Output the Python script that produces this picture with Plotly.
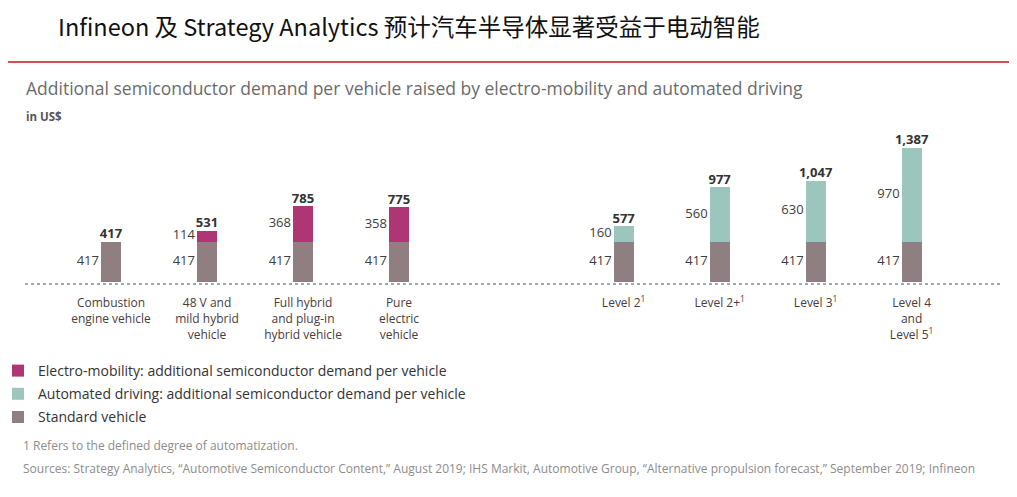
import plotly.graph_objects as go

# ---- data ----
categories = [
    "Combustion<br>engine vehicle",
    "48 V and<br>mild hybrid<br>vehicle",
    "Full hybrid<br>and plug-in<br>hybrid vehicle",
    "Pure<br>electric<br>vehicle",
    "Level 2<sup>1</sup>",
    "Level 2+<sup>1</sup>",
    "Level 3<sup>1</sup>",
    "Level 4<br>and<br>Level 5<sup>1</sup>",
]
standard = [417, 417, 417, 417, 417, 417, 417, 417]
electro = [0, 114, 368, 358, 0, 0, 0, 0]
automated = [0, 0, 0, 0, 160, 560, 630, 970]
totals = [417, 531, 785, 775, 577, 977, 1047, 1387]

title_text = "Infineon 及 Strategy Analytics 预计汽车半导体显著受益于电动智能"
subtitle = "Additional semiconductor demand per vehicle raised by electro-mobility and automated driving"
unit = "in US$"
footnote = "1 Refers to the defined degree of automatization."
sources = ("Sources: Strategy Analytics, \u201cAutomotive Semiconductor Content,\u201d August 2019; "
           "IHS Markit, Automotive Group, \u201cAlternative propulsion forecast,\u201d September 2019; Infineon")

# ---- layout helpers (page has an 8px body margin, so work in page pixels minus 8) ----
OFF = 8
W, H = 1017 - OFF, 497 - OFF
ML, MR = 25 - OFF, 1017 - 1000
MT, MB = 100 - OFF, 497 - 284
PW, PH = W - ML - MR, H - MT - MB
GAP = 1.34  # extra space between the two groups
xpos = [i if i < 4 else i + GAP for i in range(len(categories))]
BW = 0.21

C_STD = "#8f7f81"
C_EM = "#b03574"
C_AD = "#9cc5bd"
FONT = "Open Sans"


def px(x):
    return (x - OFF - ML) / PW


def py(y):
    return (H - MB - (y - OFF)) / PH


fig = go.Figure()

fig.add_trace(go.Bar(x=xpos, y=standard, width=BW, marker_color=C_STD, marker_line_width=0,
                     name="Standard vehicle", legendrank=3, legendgroup="c"))
fig.add_trace(go.Bar(x=xpos, y=electro, width=BW, marker_color=C_EM, marker_line_width=0,
                     name="Electro-mobility: additional semiconductor demand per vehicle",
                     legendrank=1, legendgroup="a"))
fig.add_trace(go.Bar(x=xpos, y=automated, width=BW, marker_color=C_AD, marker_line_width=0,
                     name="Automated driving: additional semiconductor demand per vehicle",
                     legendrank=2, legendgroup="b"))

# segment labels to the left of each bar
lx, ly, lt = [], [], []
for i, x in enumerate(xpos):
    lx.append(x - BW / 2 - 0.02)
    ly.append(standard[i] / 2)
    lt.append(str(standard[i]))
    extra = electro[i] + automated[i]
    if extra:
        lx.append(x - BW / 2 - 0.02)
        ly.append(standard[i] + extra / 2)
        lt.append(str(extra))
fig.add_trace(go.Scatter(x=lx, y=ly, text=lt, mode="text", textposition="middle left",
                         textfont=dict(family=FONT, size=13, color="#3d3d3d"),
                         showlegend=False, hoverinfo="skip", cliponaxis=False))

# totals above bars
fig.add_trace(go.Scatter(x=xpos, y=totals, text=[f"<b>{t:,}</b>" for t in totals],
                         mode="text", textposition="top center",
                         textfont=dict(family=FONT, size=13, color="#333333"),
                         showlegend=False, hoverinfo="skip", cliponaxis=False))

fig.update_layout(
    width=W, height=H,
    barmode="stack",
    paper_bgcolor="white", plot_bgcolor="white",
    margin=dict(l=ML, r=MR, t=MT, b=MB, autoexpand=False),
    font=dict(family=FONT),
    title=dict(text=title_text, xref="container", yref="container",
               x=(58 - OFF) / W, y=1 - (28 - OFF) / H, xanchor="left", yanchor="middle",
               font=dict(family="Noto Sans CJK SC", size=23.5, color="#111111")),
    legend=dict(xref="container", yref="container", x=0, y=1 - (355 - OFF) / H,
                xanchor="left", yanchor="top", orientation="v",
                traceorder="grouped", tracegroupgap=2, indentation=-10,
                font=dict(family=FONT, size=14, color="#333333"),
                itemwidth=30, bgcolor="rgba(0,0,0,0)"),
)

fig.update_xaxes(range=[-(111 - 25) / 96, (1000 - 111) / 96],
                 tickvals=xpos, ticktext=categories, showgrid=False, zeroline=False,
                 showline=False, ticks="outside", ticklen=8, tickcolor="rgba(0,0,0,0)",
                 tickfont=dict(family=FONT, size=12, color="#4b3b3d"), fixedrange=True)
fig.update_yaxes(range=[-20, 1877], visible=False, fixedrange=True)

# dotted baseline and red header rule
fig.add_shape(type="line", xref="paper", yref="paper", x0=0, x1=1, y0=0, y1=0,
              line=dict(color="#8a8a8a", width=1.5, dash="dot"))
fig.add_shape(type="line", xref="paper", yref="paper", x0=px(OFF), x1=px(1017), y0=py(62), y1=py(62),
              line=dict(color="#c8161d", width=1.5))

texts = [
    (subtitle, 24, 88, 17.5, "#6b6b6b", False),
    (unit, 24, 116, 11.5, "#555555", True),
    (footnote, 21, 445, 12, "#8c8c8c", False),
    (sources, 21, 468, 12, "#8c8c8c", False),
]
for t, x, y, s, c, b in texts:
    fig.add_annotation(text=f"<b>{t}</b>" if b else t, xref="paper", yref="paper",
                       x=px(x), y=py(y), xanchor="left", yanchor="middle", showarrow=False,
                       font=dict(family=FONT, size=s, color=c))

fig.write_html("out.html")
